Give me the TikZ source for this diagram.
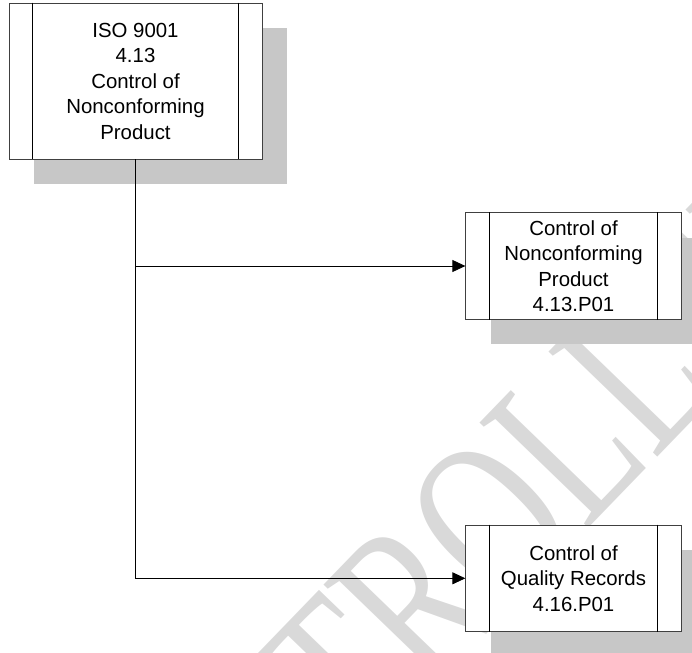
\documentclass[tikz,border=0pt]{standalone}
\usepackage{fontspec}
\setmainfont{Liberation Sans}
\newfontfamily\stampfont{Liberation Serif}
\usetikzlibrary{arrows.meta,shadows}

\tikzset{
  procbox/.style={draw=black!75, line width=0.8pt, fill=white, align=center, inner sep=0pt,
    font=\fontsize{20.4}{25.5}\selectfont,
    drop shadow={shadow xshift=25pt, shadow yshift=-25pt, fill=black!22, opacity=1}},
  flow/.style={-{Triangle[length=13pt,width=12pt]}, line width=0.8pt}
}

\begin{document}
\begin{tikzpicture}[x=1pt,y=-1pt]
    \useasboundingbox (0,0) rectangle (692,652);
    % watermark
    \node[rotate=46, anchor=base west, inner sep=0pt, text=black!15,
          font=\stampfont\fontsize{231}{231}\selectfont] (stamp) at (124,1010) {\scalebox{0.7}[1]{CONTROLLED}};
    \node[procbox, minimum width=253pt, minimum height=156pt] (iso) at (135.5,81) {ISO 9001\\4.13\\Control of\\Nonconforming\\Product};
    \node[procbox, minimum width=215.5pt, minimum height=106.5pt] (ncp) at (573.5,266) {Control of\\Nonconforming\\Product\\4.13.P01};
    \node[procbox, minimum width=215.5pt, minimum height=106.5pt] (qr) at (573.5,578.3) {Control of\\Quality Records\\4.16.P01};
    % side bars
    \foreach \b in {iso,ncp,qr} {
        \draw[line width=0.8pt] ([xshift=24pt]\b.north west) -- ([xshift=24pt]\b.south west);
        \draw[line width=0.8pt] ([xshift=-24pt]\b.north east) -- ([xshift=-24pt]\b.south east);
    }
    \draw[flow] (iso.south) |- (ncp.west);
    \draw[flow] (iso.south) |- (qr.west);
\end{tikzpicture}
\end{document}
